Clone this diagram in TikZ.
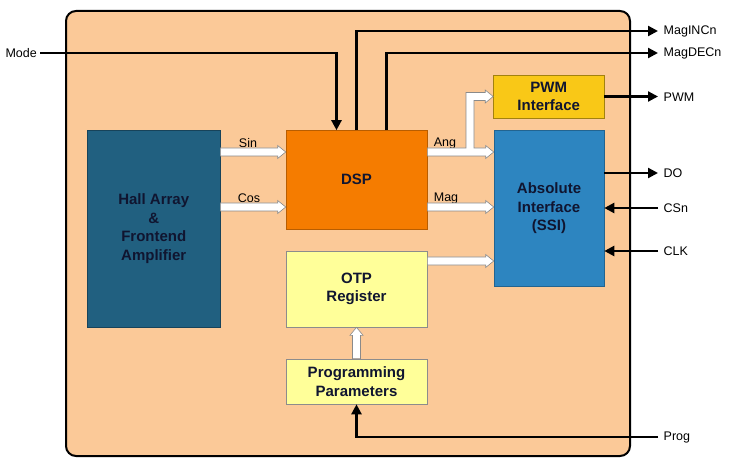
\documentclass[tikz,border=0pt]{standalone}
\usepackage{fontspec}
\setmainfont{Liberation Sans}
\usetikzlibrary{arrows.meta,calc}
\definecolor{peach}{HTML}{FBC998}
\definecolor{hallc}{HTML}{216080}
\definecolor{dspc}{HTML}{F57C00}
\definecolor{pwmc}{HTML}{F9C817}
\definecolor{absc}{HTML}{2D85C0}
\definecolor{otpc}{HTML}{FFFF99}
\definecolor{boxtext}{HTML}{101530}
\definecolor{hollowline}{HTML}{8A8A8A}
\begin{document}
\begin{tikzpicture}[x=1pt,y=-1pt,
  blk/.style={draw, line width=0.6pt, align=center, inner sep=0pt,
    font=\fontsize{15}{18.5}\selectfont\bfseries, text=boxtext},
  lbl/.style={font=\fontsize{12.5}{14}\selectfont, inner sep=3pt, text=black},
  outlbl/.style={lbl, anchor=west, inner sep=5.5pt},
  sig/.style={line width=2.3pt, -{Triangle[length=10pt,width=10pt]}},
  hollow/.style={draw=hollowline, fill=white, line width=0.6pt, line join=miter},
  hollowh/.style={hollow, to path={let \p1=(\tikztostart), \p2=(\tikztotarget) in
    (\x1,{\y1+4pt}) -- ({\x2-8pt},{\y1+4pt}) -- ({\x2-8pt},{\y1+6.5pt}) -- (\x2,\y1)
    -- ({\x2-8pt},{\y1-6.5pt}) -- ({\x2-8pt},{\y1-4pt}) -- (\x1,{\y1-4pt}) -- cycle}},
  hollowv/.style={hollow, to path={let \p1=(\tikztostart), \p2=(\tikztotarget) in
    ({\x1-4pt},\y1) -- ({\x1-4pt},{\y2-8pt}) -- ({\x1-6.5pt},{\y2-8pt}) -- (\x1,\y2)
    -- ({\x1+6.5pt},{\y2-8pt}) -- ({\x1+4pt},{\y2-8pt}) -- ({\x1+4pt},\y1) -- cycle}}
]
\useasboundingbox (0,0) rectangle (731,465);
\draw[line width=2pt, fill=peach, rounded corners=10pt] (66,11) rectangle (630,456);

% blocks
\node[blk, fill=hallc, draw=hallc!70!black, minimum width=132.5pt, minimum height=196.5pt] (hall) at (153.75,228.75) {Hall Array\\\&\\Frontend\\Amplifier};
\node[blk, fill=dspc, draw=dspc!75!black, minimum width=141pt, minimum height=98.5pt] (dsp) at (356.5,179.75) {DSP};
\node[blk, fill=otpc, draw=black!45, minimum width=141pt, minimum height=76pt] (otp) at (356.5,289) {OTP\\Register};
\node[blk, fill=otpc, draw=black!45, minimum width=141pt, minimum height=45pt] (pp) at (356.5,381.5) {Programming\\Parameters};
\node[blk, fill=pwmc, draw=pwmc!65!black, minimum width=110.5pt, minimum height=43pt] (pwm) at (548.75,96.5) {PWM\\Interface};
\node[blk, fill=absc, draw=absc!75!black, minimum width=110pt, minimum height=155.5pt] (abs) at (549,208.25) {Absolute\\Interface\\(SSI)};

% labels
\node[lbl, anchor=east] (mode) at (40,53) {Mode};
\node[outlbl] (maginc) at (658,31) {MagINCn};
\node[outlbl] (magdec) at (658,53) {MagDECn};
\node[outlbl] (pwmout) at (658,97) {PWM};
\node[outlbl] (do) at (658,173) {DO};
\node[outlbl] (csn) at (658,208) {CSn};
\node[outlbl] (clk) at (658,251) {CLK};
\node[outlbl] (prog) at (658,437) {Prog};
\node[lbl] (sin) at (248,143) {Sin};
\node[lbl] (cos) at (249,198) {Cos};
\node[lbl] (ang) at (445,143) {Ang};
\node[lbl] (mag) at (446,198) {Mag};

% signal connectors
\draw[sig] (mode.east) -| ([xshift=-20pt]dsp.north);
\draw[sig] (dsp.north) |- (maginc.west);
\draw[sig] ([xshift=30pt]dsp.north) |- (magdec.west);
\draw[sig] (pwm.east) -- (pwm.east -| pwmout.west);
\draw[sig] (abs.east |- do.west) -- (do.west);
\draw[sig] (csn.west) -- (abs.east |- csn.west);
\draw[sig] (clk.west) -- (abs.east |- clk.west);
\draw[sig] (prog.west) -| (pp.south);

% hollow bus arrows
\draw[hollowh] (hall.east |- 0,152) to (dsp.west |- 0,152);
\draw[hollowh] (hall.east |- 0,207) to (dsp.west |- 0,207);
\draw[hollowh] (dsp.east |- 0,207) to (abs.west |- 0,207);
\draw[hollowh] (otp.east |- 0,261) to (abs.west |- 0,261);
\draw[hollowv] (pp.north) to (otp.south);
\draw[hollow] let \p1=(dsp.east |- 0,152), \p2=(abs.west |- 0,152), \p3=(pwm.west), \p4=(470,0) in
  (\x1,{\y1+4pt}) -- ({\x4-4pt},{\y1+4pt}) -- ({\x4-4pt},{\y3+4pt}) -- ({\x3-8pt},{\y3+4pt})
  -- ({\x3-8pt},{\y3+6.5pt}) -- (\x3,\y3) -- ({\x3-8pt},{\y3-6.5pt}) -- ({\x3-8pt},{\y3-4pt})
  -- ({\x4+4pt},{\y3-4pt}) -- ({\x4+4pt},{\y1+4pt}) -- ({\x2-8pt},{\y1+4pt})
  -- ({\x2-8pt},{\y1+6.5pt}) -- (\x2,\y1) -- ({\x2-8pt},{\y1-6.5pt}) -- ({\x2-8pt},{\y1-4pt})
  -- (\x1,{\y1-4pt}) -- cycle;
\end{tikzpicture}
\end{document}
